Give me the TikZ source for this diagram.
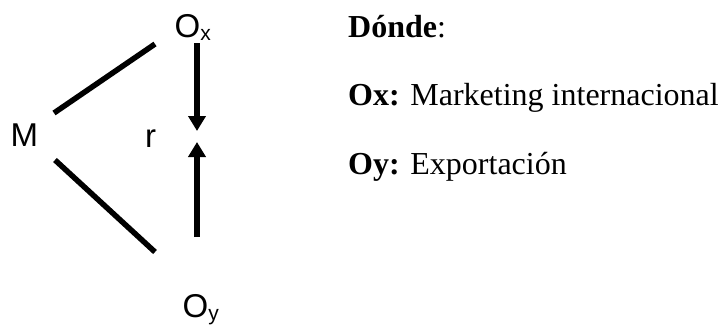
\documentclass[tikz,border=0pt]{standalone}
\usepackage{fontspec}
\setmainfont{Liberation Serif}
\newfontfamily\arialf{Liberation Sans}
\usetikzlibrary{arrows.meta}
\tikzset{
  lbl/.style={inner sep=0pt, anchor=base west, font=\arialf\fontsize{33}{33}\selectfont},
  txt/.style={inner sep=0pt, anchor=base west, font=\fontsize{32}{32}\selectfont},
  conn/.style={line width=5.5pt},
  arr/.style={line width=5.5pt, -{Triangle[width=17pt,length=15pt]}}
}
\newcommand{\mysub}[1]{\raisebox{-3pt}{\fontsize{21}{21}\selectfont #1}}
\begin{document}
\begin{tikzpicture}[x=1pt,y=-1pt]
\useasboundingbox (0,0) rectangle (719,327);
\node[lbl] (M) at (10.5,146) {M};
\node[lbl] (r) at (145,147) {r};
\node[lbl] (Ox) at (174.5,37) {O\mysub{x}};
\node[lbl] (Oy) at (182.5,317) {O\mysub{y}};
\coordinate (a1) at (54,113);
\coordinate (a2) at (155,44);
\coordinate (b1) at (55,160);
\coordinate (b2) at (155,252);
\coordinate (c1) at (197,43);
\coordinate (c2) at (197,131);
\coordinate (d1) at (197,237);
\coordinate (d2) at (197,142);
\draw[conn] (a1) -- (a2);
\draw[conn] (b1) -- (b2);
\draw[arr] (c1) -- (c2);
\draw[arr] (d1) -- (d2);
\node[txt] (t0) at (348,37) {\textbf{Dónde}:};
\node[txt] (t1) at (348,105) {\textbf{Ox:} Marketing internacional};
\node[txt] (t2) at (348,174) {\textbf{Oy:} Exportación};
\end{tikzpicture}
\end{document}
